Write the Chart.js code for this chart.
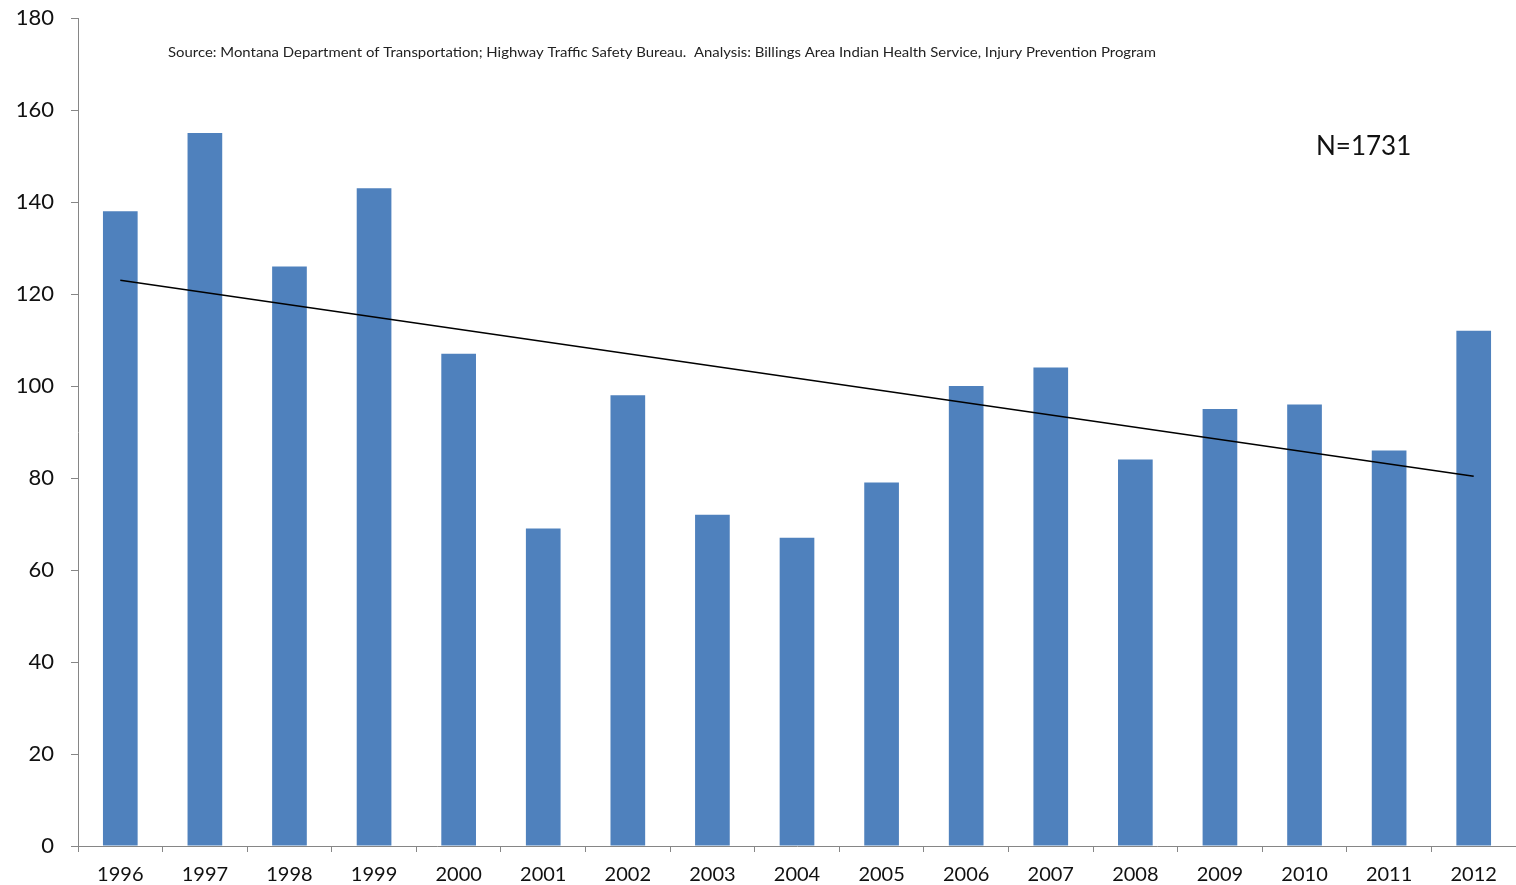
<!DOCTYPE html>
<html>
<head>
<meta charset="utf-8">
<script src="https://cdn.jsdelivr.net/npm/chart.js@4"></script>
<style>
html,body{margin:0;padding:0;background:#fff;}
#wrap{width:1516px;height:885px;position:relative;}
</style>
</head>
<body>
<div id="wrap"><canvas id="c" width="1516" height="885"></canvas></div>
<script>
const years = ['1996','1997','1998','1999','2000','2001','2002','2003','2004','2005','2006','2007','2008','2009','2010','2011','2012'];
const counts = [138,155,126,143,107,69,98,72,67,79,100,104,84,95,96,86,112];
const trend = [123,null,null,null,null,null,null,null,null,null,null,null,null,null,null,null,80.4];
const yTicks = [0,20,40,60,80,100,120,140,160,180];
const sourceText = 'Source: Montana Department of Transportation; Highway Traffic Safety Bureau.  Analysis: Billings Area Indian Health Service, Injury Prevention Program';
const nText = 'N=1731';

const textPlugin = {
  id: 'texts',
  afterDraw(chart) {
    const ctx = chart.ctx;
    ctx.save();
    ctx.fillStyle = '#222';
    ctx.textBaseline = 'middle';
    ctx.textAlign = 'left';
    ctx.font = '14px Lato';
    const w = ctx.measureText(sourceText).width;
    const target = 988;
    ctx.translate(168, 52);
    ctx.scale(target / w, 1);
    ctx.fillText(sourceText, 0, 0);
    ctx.restore();
    ctx.save();
    ctx.fillStyle = '#111';
    ctx.textBaseline = 'middle';
    ctx.textAlign = 'left';
    ctx.font = '26px Lato';
    ctx.fillText(nText, 1316, 147);
    ctx.restore();
  }
};

new Chart(document.getElementById('c'), {
  type: 'bar',
  data: {
    labels: years,
    datasets: [
      {
        type: 'line',
        data: trend,
        borderColor: '#000',
        borderWidth: 1.5,
        pointRadius: 0,
        spanGaps: true,
        fill: false,
        order: 0
      },
      {
        type: 'bar',
        data: counts,
        backgroundColor: '#4F81BD',
        barPercentage: 0.41,
        categoryPercentage: 1.0,
        order: 1
      }
    ]
  },
  options: {
    responsive: false,
    animation: false,
    devicePixelRatio: 1,
    layout: { padding: { top: 18, right: 0, left: 0, bottom: 0 } },
    plugins: { legend: { display: false }, tooltip: { enabled: false }, title: { display: false } },
    scales: {
      x: {
        offset: true,
        grid: { display: true, drawOnChartArea: false, offset: true, tickLength: 6, color: '#868686' },
        border: { color: '#868686', width: 1 },
        ticks: { color: '#111', font: { family: 'Lato', size: 20 }, padding: 11, maxRotation: 0, autoSkip: false },
        afterFit(s) { s.height = 39; s.paddingLeft = 0; s.paddingRight = 0; }
      },
      y: {
        min: 0, max: 180,
        afterBuildTicks(s) { s.ticks = yTicks.map(v => ({ value: v })); },
        grid: { display: true, drawOnChartArea: false, tickLength: 7, color: '#868686' },
        border: { color: '#868686', width: 1 },
        ticks: { color: '#111', font: { family: 'Lato', size: 22 }, padding: 17 },
        afterFit(s) { s.width = 78; s.paddingTop = 0; s.paddingBottom = 0; }
      }
    }
  },
  plugins: [textPlugin]
});
</script>
</body>
</html>
